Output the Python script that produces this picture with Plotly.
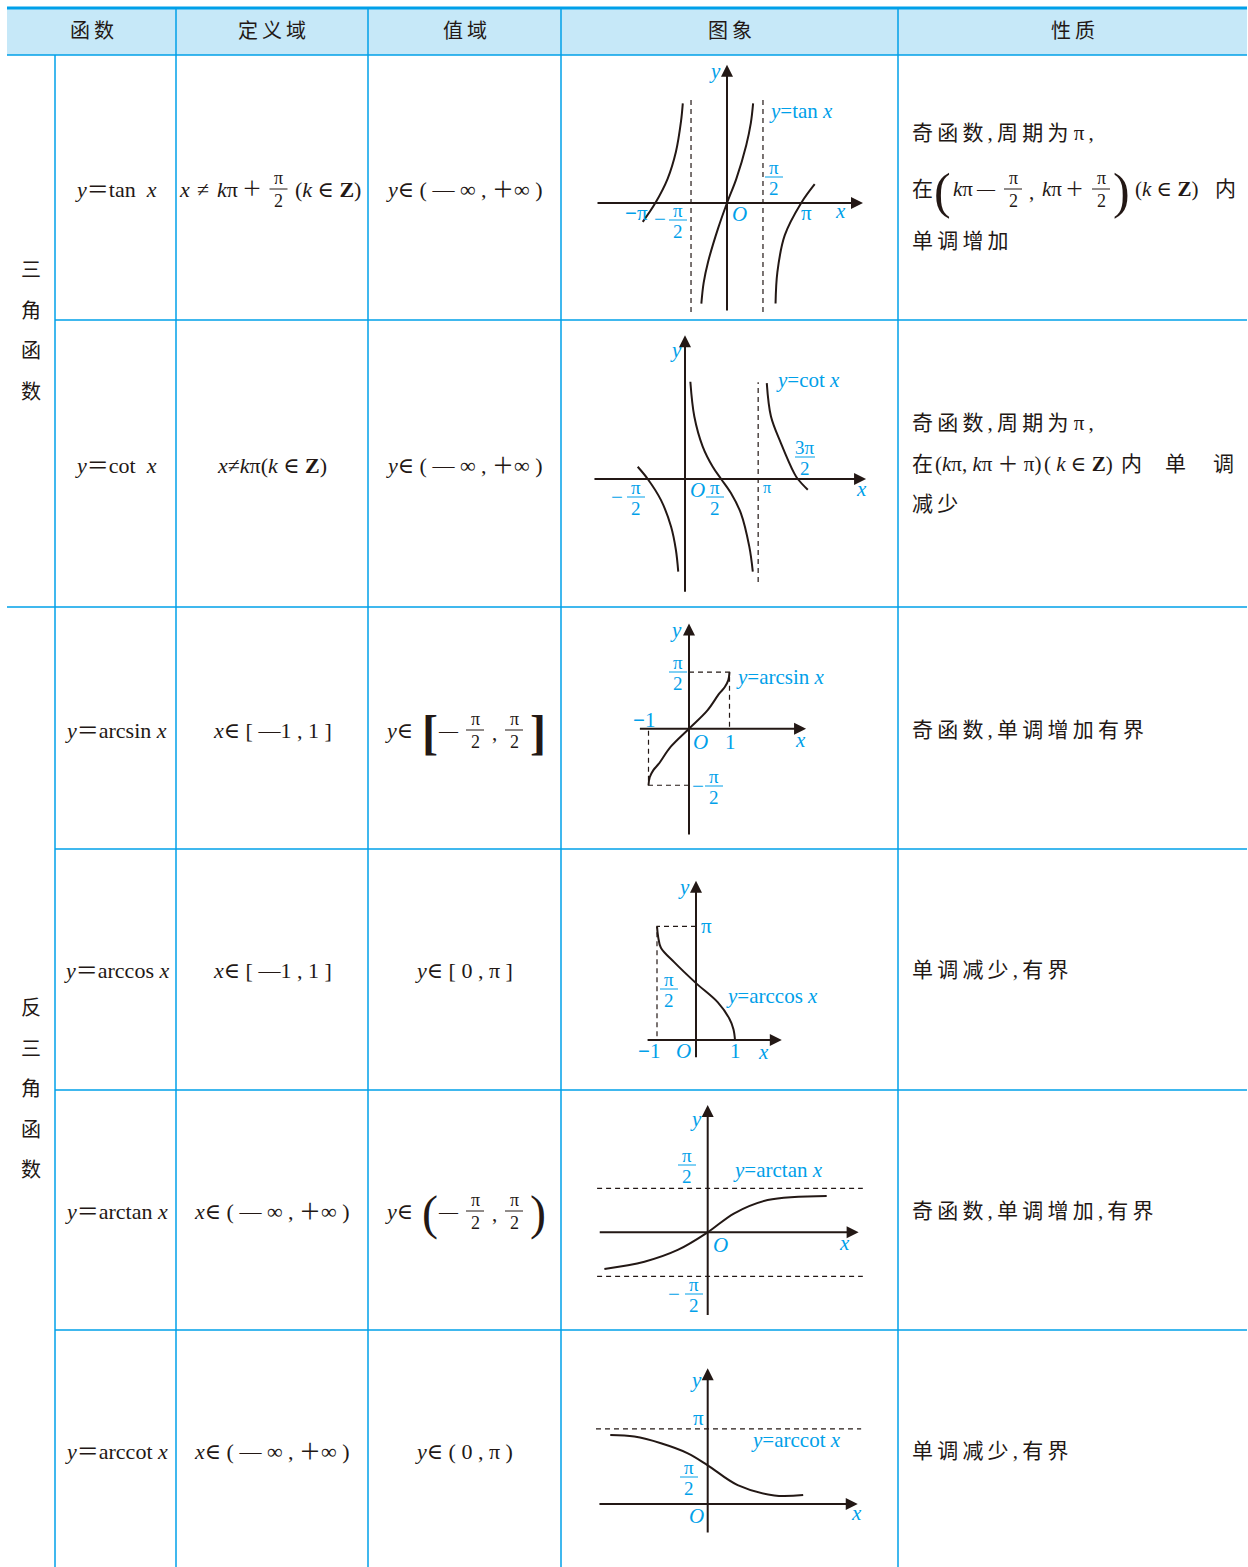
import plotly.graph_objects as go

W, H = 1248, 1567
OFF = 0  # body margin is removed in the page (see write_html)
INK = "#231815"
CYAN = "#00a0e9"
HEAD_BG = "#c6e8f8"
TEXT_FONT = "Liberation Serif, DejaVu Serif, Noto Sans CJK SC"
LABEL_FONT = "Liberation Serif, DejaVu Serif"
TS = "\u2009"  # thin space between CJK characters

# ---------------- table content ----------------
col_x = [7, 55, 176, 368, 561, 898, 1247]
row_y = [8, 55, 320, 607, 849, 1090, 1330, 1567]

headers = ["函数", "定义域", "值域", "图象", "性质"]
groups = ["三角函数", "反三角函数"]
funcs = ["<i>y</i>＝tan  <i>x</i>", "<i>y</i>＝cot  <i>x</i>", "<i>y</i>＝arcsin <i>x</i>",
         "<i>y</i>＝arccos <i>x</i>", "<i>y</i>＝arctan <i>x</i>", "<i>y</i>＝arccot <i>x</i>"]
domains = [None, "<i>x</i>≠<i>k</i>π(<i>k</i> ∈ <b>Z</b>)", "<i>x</i>∈ [ —1 , 1 ]",
           "<i>x</i>∈ [ —1 , 1 ]", "<i>x</i>∈ ( — ∞ , ＋∞ )", "<i>x</i>∈ ( — ∞ , ＋∞ )"]
ranges = ["<i>y</i>∈ ( — ∞ , ＋∞ )", "<i>y</i>∈ ( — ∞ , ＋∞ )", None,
          "<i>y</i>∈ [ 0 , π ]", None, "<i>y</i>∈ ( 0 , π )"]
props_simple = ["奇函数,单调增加有界", "单调减少,有界", "奇函数,单调增加,有界", "单调减少,有界"]

# ---------------- curve data ----------------
tan_left_x = [-3.68, -3.13, -2.59, -2.23, -2.01, -1.93]
tan_left_y = [-0.40, 0.0, 0.52, 1.09, 1.73, 2.12]
tan_mid_x = [-1.12, -1.02, -0.83, -0.39, 0.0, 0.41, 0.84, 1.04, 1.14]
tan_mid_y = [-2.14, -1.70, -1.26, -0.54, 0.0, 0.52, 1.23, 1.70, 2.12]
tan_right_x = [2.12, 2.20, 2.52, 3.24, 3.83]
tan_right_y = [-2.14, -1.47, -0.69, 0.0, 0.40]
tan_asym_x = [-1.571, 1.571]

cot_left_x = [-2.03, -1.60, -1.03, -0.60, -0.39, -0.29]
cot_left_y = [0.26, 0.0, -0.45, -1.01, -1.51, -1.97]
cot_mid_x = [0.23, 0.40, 0.76, 1.19, 1.55, 1.97, 2.40, 2.76, 2.91]
cot_mid_y = [2.07, 1.33, 0.69, 0.26, 0.0, -0.30, -0.73, -1.44, -1.97]
cot_right_x = [3.51, 3.69, 4.12, 4.69, 4.84, 5.27]
cot_right_y = [2.04, 1.33, 0.76, 0.12, 0.0, -0.23]
cot_asym_x = [3.14]

asin_x = [-1.0, -0.97, -0.88, -0.75, -0.45, 0.0, 0.45, 0.75, 0.88, 0.97, 1.0]
asin_y = [-1.571, -1.35, -1.15, -0.98, -0.50, 0.0, 0.50, 0.98, 1.15, 1.35, 1.571]

acos_x = [-1.0, -0.97, -0.90, -0.56, 0.0, 0.56, 0.85, 0.96, 1.0]
acos_y = [3.14, 2.85, 2.55, 2.15, 1.571, 1.04, 0.60, 0.30, 0.0]

atan_x = [-3.69, -2.26, -1.07, 0.0, 0.95, 2.14, 4.25]
atan_y = [-1.31, -1.05, -0.63, 0.0, 0.68, 1.15, 1.30]
atan_bounds = [1.571, -1.571]

acot_x = [-3.48, -2.62, -1.67, -0.71, 0.0, 1.07, 2.38, 3.41]
acot_y = [2.89, 2.82, 2.54, 2.12, 1.62, 0.79, 0.36, 0.38]
acot_bound = [3.14]

# graph frames per row: origin pixel and pixels per unit
frames = [(727, 203, 22.9, 47), (685, 479, 23.3, 47), (689, 728.7, 40.5, 36),
          (696, 1040, 39, 36.2), (707.7, 1232.3, 28, 28), (707.7, 1504, 28, 23.9)]
axis_ext = [((-5.72, 5.94), (-2.32, 2.94)), ((-3.95, 7.77), (-2.43, 3.06)),
            ((-1.25, 2.89), (-2.98, 2.92)), ((-1.28, 2.20), (-0.52, 4.40)),
            ((-3.91, 5.39), (-3.01, 4.55)), ((-3.92, 5.36), (-1.26, 5.68))]

fig = go.Figure()
shapes, annos = [], []


def t(x, y, s, size=21, color=INK, family=TEXT_FONT, anchor="center"):
    annos.append(dict(x=x, y=y, xref="x", yref="y", text=s, showarrow=False,
                      font=dict(size=size, color=color, family=family),
                      xanchor=anchor, yanchor="middle"))


def hline(x0, x1, y, color=CYAN, width=1.5):
    shapes.append(dict(type="line", xref="x", yref="y", x0=x0, x1=x1, y0=y, y1=y,
                       line=dict(color=color, width=width)))


def vline(x, y0, y1, color=CYAN, width=1.5):
    shapes.append(dict(type="line", xref="x", yref="y", x0=x, x1=x, y0=y0, y1=y1,
                       line=dict(color=color, width=width)))


def frac(x, y, num, den, size=18, color=INK, family=TEXT_FONT, hw=9, up=11, down=12):
    t(x, y - up, num, size, color, family)
    t(x, y + down, den, size, color, family)
    hline(x - hw, x + hw, y, color=color, width=1)


def lab(x, y, s, size=21, anchor="center"):
    t(x, y, s, size, CYAN, LABEL_FONT, anchor)


def lfrac(x, y, num, den, hw=9):
    frac(x, y, num, den, 19, CYAN, LABEL_FONT, hw, 10, 11)


def cjk(s):
    return TS.join(s)


COMMA = TS + "," + TS

# ---------------- table frame ----------------
shapes.append(dict(type="rect", xref="x", yref="y", x0=7, x1=1247, y0=9, y1=55,
                   fillcolor=HEAD_BG, line=dict(width=0), layer="below"))
hline(7, 1247, 8, width=3)
hline(7, 1247, 55)
hline(55, 1247, 320)
hline(7, 1247, 607)
for yy in [849, 1090, 1330]:
    hline(55, 1247, yy)
vline(55, 55, 1575)
for xx in col_x[2:6]:
    vline(xx, 8, 1575)

# header
t(92, 31, cjk(headers[0]), size=20)
for i, h in enumerate(headers[1:]):
    t((col_x[i + 2] + col_x[i + 3]) / 2, 31, cjk(h), size=20)

# group labels (vertical)
for k, ch in enumerate(groups[0]):
    t(31, 270 + k * 40.7, ch, size=20)
for k, ch in enumerate(groups[1]):
    t(31, 1008 + k * 40.5, ch, size=20)

row_mid = [189, 465, 730, 970, 1211, 1451]
for i, f in enumerate(funcs):
    t(116, row_mid[i], f, size=22)
for i, d in enumerate(domains):
    if d:
        t(272, row_mid[i], d, size=22)
for i, r in enumerate(ranges):
    if r:
        t(464, row_mid[i], r, size=22)

# domain of tan
t(184, 189, "<i>x</i>", size=22)
t(203, 189, "≠", size=22)
t(227, 189, "<i>k</i>π", size=22)
t(252, 189, "＋", size=20)
frac(278.5, 189, "π", "2")
t(293, 189, "(<i>k</i> ∈ <b>Z</b>)", size=22, anchor="left")

# range of arcsin / arctan
for r, (lb, rb) in [(2, ("[", "]")), (4, ("(", ")"))]:
    y = row_mid[r]
    t(383, y, "<i>y</i>∈", size=22, anchor="left")
    t(430, y + 2, "<b>%s</b>" % lb if lb == "[" else lb, size=48)
    t(448, y, "—", size=19)
    frac(475, y, "π", "2")
    t(494, y + 3, ",")
    frac(514, y, "π", "2")
    t(538, y + 2, "<b>%s</b>" % rb if rb == "]" else rb, size=48)

# properties
line1 = cjk("奇函数") + COMMA + cjk("周期为") + " π" + TS + ","
t(910, 133, line1, anchor="left")
t(910, 189, "在", anchor="left")
t(942, 191, "(", size=50)
t(951, 189, "<i>k</i>π", anchor="left")
t(986, 189, "—", size=18)
frac(1013, 189, "π", "2")
t(1031, 192, ",")
t(1040, 189, "<i>k</i>π", anchor="left")
t(1074, 189, "＋", size=19)
frac(1101, 189, "π", "2")
t(1121, 191, ")", size=50)
t(1133, 189, "(<i>k</i> ∈ <b>Z</b>)", anchor="left")
t(1213, 189, "内", anchor="left")
t(910, 241, cjk("单调增加"), anchor="left")

t(910, 423, line1, anchor="left")
t(910, 464, "在", anchor="left")
t(933, 464, "(<i>k</i>π, <i>k</i>π ＋ π)", anchor="left")
t(1042, 464, "( <i>k</i> ∈ <b>Z</b>)", anchor="left")
t(1119, 464, "内", anchor="left")
t(1163, 464, "单", anchor="left")
t(1211, 464, "调", anchor="left")
t(910, 504, cjk("减少"), anchor="left")

for i, p in enumerate(props_simple):
    parts = p.split(",")
    t(910, row_mid[i + 2], COMMA.join(cjk(q) for q in parts), anchor="left")

# ---------------- graphs ----------------
layout_axes = {
    "xaxis": dict(domain=[0, 1], range=[OFF, W + OFF], visible=False, fixedrange=True),
    "yaxis": dict(domain=[0, 1], range=[H + OFF, OFF], visible=False, fixedrange=True),
}
fig.add_trace(go.Scatter(x=[], y=[], showlegend=False))

for r, (ox, oy, sx, sy) in enumerate(frames):
    n = r + 2
    top, bottom = row_y[r + 1], row_y[r + 2]
    left, right = 561, 898
    layout_axes[f"xaxis{n}"] = dict(domain=[(left - OFF) / W, (right - OFF) / W],
                                    range=[(left - ox) / sx, (right - ox) / sx],
                                    visible=False, fixedrange=True, anchor=f"y{n}")
    layout_axes[f"yaxis{n}"] = dict(domain=[1 - (bottom - OFF) / H, 1 - (top - OFF) / H],
                                    range=[(oy - bottom) / sy, (oy - top) / sy],
                                    visible=False, fixedrange=True, anchor=f"x{n}")
    (xa, xb), (ya, yb) = axis_ext[r]
    ref = dict(xref=f"x{n}", yref=f"y{n}", axref=f"x{n}", ayref=f"y{n}",
               showarrow=True, arrowhead=2, arrowsize=1.2, arrowwidth=2,
               arrowcolor=INK, text="", standoff=0)
    annos.append(dict(x=xb, y=0, ax=xa, ay=0, **ref))
    annos.append(dict(x=0, y=yb, ax=0, ay=ya, **ref))


def curve(n, xs, ys, dash=None, width=2):
    fig.add_trace(go.Scatter(
        x=xs, y=ys, mode="lines", xaxis=f"x{n}", yaxis=f"y{n}", showlegend=False,
        hoverinfo="skip",
        line=dict(color=INK, width=width, shape="linear" if dash else "spline",
                  dash=dash)))


DASH = "5px,4px"

# tan
for xs, ys in [(tan_left_x, tan_left_y), (tan_mid_x, tan_mid_y), (tan_right_x, tan_right_y)]:
    curve(2, xs, ys)
for ax_ in tan_asym_x:
    curve(2, [ax_, ax_], [-2.32, 2.19], DASH, 1.2)
lab(715, 71, "<i>y</i>")
lab(767, 111, "<i>y</i>=tan <i>x</i>", anchor="left")
lfrac(774, 177, "π", "2")
lab(636, 213, "<b>−</b>π")
lab(660, 219, "−")
lfrac(678, 220, "π", "2")
lab(739, 214, "<i>O</i>")
lab(806, 213, "π")
lab(840, 211, "<i>x</i>")

# cot
for xs, ys in [(cot_left_x, cot_left_y), (cot_mid_x, cot_mid_y), (cot_right_x, cot_right_y)]:
    curve(3, xs, ys)
for ax_ in cot_asym_x:
    curve(3, [ax_, ax_], [-2.19, 2.06], DASH, 1.2)
lab(676, 350, "<i>y</i>")
lab(774, 380, "<i>y</i>=cot <i>x</i>", anchor="left")
lab(617, 497, "−")
lfrac(636, 497, "π", "2")
lab(697, 490, "<i>O</i>")
lfrac(715, 497, "π", "2")
lab(767, 487, "π", size=16)
lfrac(805, 457, "3π", "2", hw=10)
lab(861, 489, "<i>x</i>")

# arcsin
curve(4, asin_x, asin_y)
curve(4, [0, asin_x[-1], asin_x[-1]], [asin_y[-1], asin_y[-1], 0], DASH, 1.2)
curve(4, [0, asin_x[0], asin_x[0]], [asin_y[0], asin_y[0], 0], DASH, 1.2)
lab(676, 630, "<i>y</i>")
lfrac(678, 672, "π", "2")
lab(734, 677, "<i>y</i>=arcsin <i>x</i>", anchor="left")
lab(644, 720, "<b>−</b>1")
lab(700, 742, "<i>O</i>")
lab(730, 742, "1")
lab(800, 740, "<i>x</i>")
lab(698, 786, "−")
lfrac(714, 786, "π", "2")

# arccos
curve(5, acos_x, acos_y)
curve(5, [0, acos_x[0], acos_x[0]], [acos_y[0], acos_y[0], 0], DASH, 1.2)
lab(684, 887, "<i>y</i>")
lab(706, 926, "π")
lfrac(669, 989, "π", "2")
lab(724, 996, "<i>y</i>=arccos <i>x</i>", anchor="left")
lab(649, 1051, "<b>−</b>1")
lab(683, 1051, "<i>O</i>")
lab(735, 1051, "1")
lab(763, 1052, "<i>x</i>")

# arctan
curve(6, atan_x, atan_y)
for b in atan_bounds:
    curve(6, [-3.95, 5.54], [b, b], DASH, 1.2)
lab(696, 1119, "<i>y</i>")
lfrac(687, 1165, "π", "2")
lab(731, 1170, "<i>y</i>=arctan <i>x</i>", anchor="left")
lab(720, 1245, "<i>O</i>")
lab(844, 1243, "<i>x</i>")
lab(674, 1294, "−")
lfrac(694, 1294, "π", "2")

# arccot
curve(7, acot_x, acot_y)
for b in acot_bound:
    curve(7, [-3.99, 5.48], [b, b], DASH, 1.2)
lab(696, 1380, "<i>y</i>")
lab(698, 1418, "π")
lab(749, 1440, "<i>y</i>=arccot <i>x</i>", anchor="left")
lfrac(689, 1477, "π", "2")
lab(696, 1516, "<i>O</i>")
lab(856, 1513, "<i>x</i>")

fig.update_layout(
    width=W, height=H, margin=dict(l=0, r=0, t=0, b=0),
    paper_bgcolor="white", plot_bgcolor="rgba(0,0,0,0)",
    showlegend=False, shapes=shapes, annotations=annos, **layout_axes)

fig.write_html("out.html", config={"displayModeBar": False},
               post_script="document.body.style.margin = '0px';")
